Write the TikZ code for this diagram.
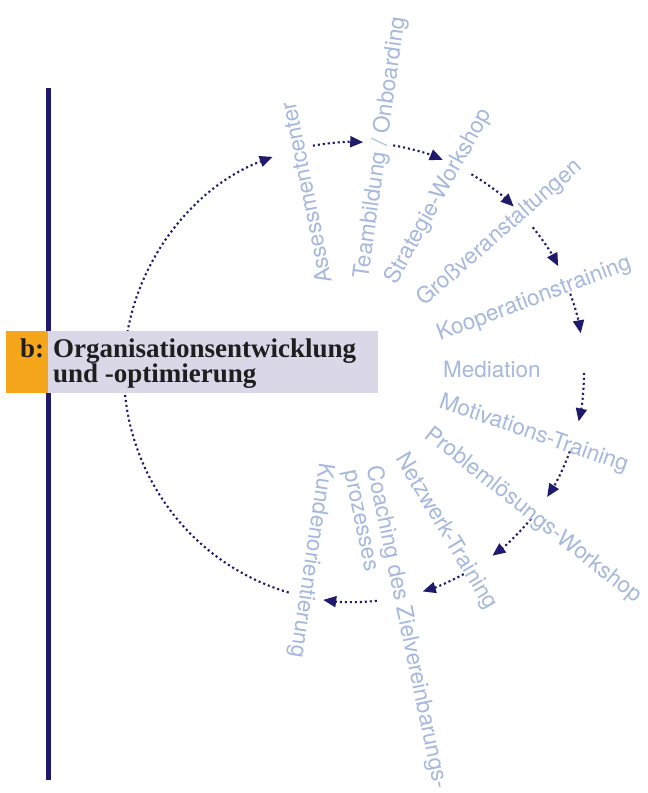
\documentclass[tikz,border=0pt]{standalone}
\usepackage{fontspec}
\newfontfamily\lblfont{TeX Gyre Heros}
\newfontfamily\hdrfont{Liberation Serif}
\usetikzlibrary{arrows.meta}
\definecolor{navy}{RGB}{32,26,108}
\definecolor{lblblue}{RGB}{166,184,220}
\definecolor{hdrorange}{RGB}{245,166,27}
\definecolor{hdrlav}{RGB}{218,215,232}
\definecolor{hdrtext}{RGB}{30,30,30}
\begin{document}
\begin{tikzpicture}[x=1pt,y=1pt,
  lbl/.style={font=\lblfont\fontsize{22.5}{23}\selectfont, text=lblblue, inner sep=0pt, anchor=base west},
  cyc/.style={draw=navy, line width=2.1pt, dash pattern=on 2.1pt off 2.9pt, -{Triangle[length=13pt,width=11pt]}},
  hdr/.style={font=\hdrfont\bfseries\fontsize{27}{25}\selectfont, text=hdrtext, inner sep=0pt, anchor=base west}]
\useasboundingbox (0,0) rectangle (648,-793);
% vertical rule
\coordinate (lt) at (48.5,-88);
\coordinate (lb) at (48.5,-780);
\draw[navy, line width=4.5pt] (lt) -- (lb);
% cycle arrows
\coordinate (O) at (354,-372);
\foreach \a/\b in {253.5/110.7, 100.3/87.7, 80.2/67.3, 59.3/46.0, 39.0/27.4, 19.9/9.7,
                   -0.2/-12.4, -20.2/-32.9, -39.7/-53.0, -61.5/-72.6, -84.3/-97.7}
  \draw[cyc] ([shift={(\a:230)}]O) arc[start angle=\a, end angle=\b, radius=230];
% header
\fill[hdrlav] (48,-331) rectangle (378,-393);
\fill[hdrorange] (6,-331) rectangle (48,-393);
\node[hdr] (hb) at (20,-357) {b:};
\node[hdr] (ht) at (53,-357) {\vtop{\hbox{Organisationsentwicklung}\hbox{und -optimierung}}};
% labels
\node[lbl, rotate=101.4] (assess) at (332,-282) {Assessmentcenter};
\node[lbl, rotate=82] (team) at (368,-280) {Teambildung / Onboarding};
\node[lbl, rotate=61] (strat) at (396,-286) {Strategie-Workshop};
\node[lbl, rotate=41] (gross) at (424,-307) {Großveranstaltungen};
\node[lbl, rotate=20.7] (koop) at (440,-341) {Kooperationstraining};
\node[lbl] (med) at (443,-377) {Mediation};
\node[lbl, rotate=-19] (motiv) at (438,-407.5) {Motivations-Training};
\node[lbl, rotate=-38.2] (prob) at (423.5,-437) {Problemlösungs-Workshop};
\node[lbl, rotate=-58.9] (netz) at (395,-458.4) {Netzwerk-Training};
\node[lbl, rotate=-78.2] (coach) at (366.7,-467) {\vtop{\hbox{Coaching des Zielvereinbarungs-}\hbox{prozesses}}};
\node[lbl, rotate=-98.5] (kunden) at (319.5,-462.5) {Kundenorientierung};
\end{tikzpicture}
\end{document}
